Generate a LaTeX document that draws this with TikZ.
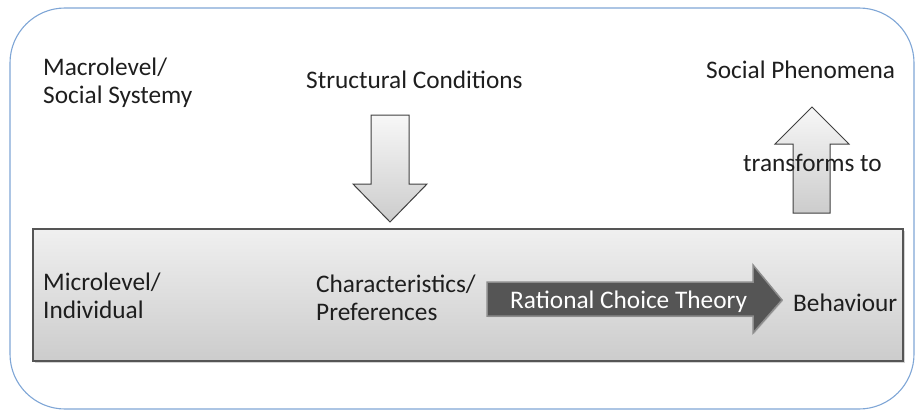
\documentclass[tikz,border=0pt]{standalone}
\usepackage{fontspec}
\setmainfont{Carlito}
\usetikzlibrary{shadows}
\definecolor{frameblue}{HTML}{7FA6D6}
\definecolor{txt}{HTML}{1E1E1E}
\definecolor{boxedge}{HTML}{555555}
\definecolor{darkarrow}{HTML}{555555}
\definecolor{darkarrowedge}{HTML}{8C8C8C}
\tikzset{
  lbl/.style={inner sep=0pt, anchor=base west, text=txt, align=left,
    font=\fontsize{25.3}{28}\selectfont},
  graybox/.style={draw=boxedge, line width=1.2pt, shading=axis,
    top color=white!94!black, bottom color=white!80!black,
    drop shadow={shadow xshift=1.5pt, shadow yshift=-1.5pt, opacity=0.35}},
  lightarrow/.style={draw=black!75, line width=1pt, line join=miter, shading=axis,
    top color=white!97!black, bottom color=white!80!black},
  darkarrowstyle/.style={draw=darkarrowedge, line width=1.5pt, fill=darkarrow,
    drop shadow={shadow xshift=1pt, shadow yshift=-1pt, opacity=0.3}},
}
\begin{document}
\begin{tikzpicture}[x=1pt,y=-1pt]
\useasboundingbox (0,0) rectangle (917,412);
% outer frame
\draw[frameblue, line width=1.1pt, rounded corners=55pt] (10,8) rectangle (914,409);
% micro level box
\path[graybox] (33,229) rectangle (903,361);
% structural conditions arrow (down)
\path[lightarrow] (371,115) -- (409,115) -- (409,184) -- (427,184) -- (390,222)
  -- (353,184) -- (371,184) -- cycle;
% transforms arrow (up)
\path[lightarrow] (793,213) -- (793,144) -- (775,144) -- (812,107) -- (849,144)
  -- (830,144) -- (830,213) -- cycle;
% rational choice arrow
\path[darkarrowstyle] (487,282) -- (753,282) -- (753,265) -- (782,300) -- (753,333)
  -- (753,316) -- (487,316) -- cycle;
% labels (base anchor = baseline of the last line)
\node[lbl] (macro) at (43,103) {Macrolevel/\\Social Systemy};
\node[lbl] (struct) at (306,88) {Structural Conditions};
\node[lbl] (socphen) at (706,78) {Social Phenomena};
\node[lbl] (transf) at (743,171) {transforms to};
\node[lbl] (micro) at (43,318) {Microlevel/\\Individual};
\node[lbl] (charpref) at (316,320) {Characteristics/\\Preferences};
\node[lbl, text=white] (rct) at (510,308) {Rational Choice Theory};
\node[lbl] (behav) at (793,311) {Behaviour};
\end{tikzpicture}
\end{document}
